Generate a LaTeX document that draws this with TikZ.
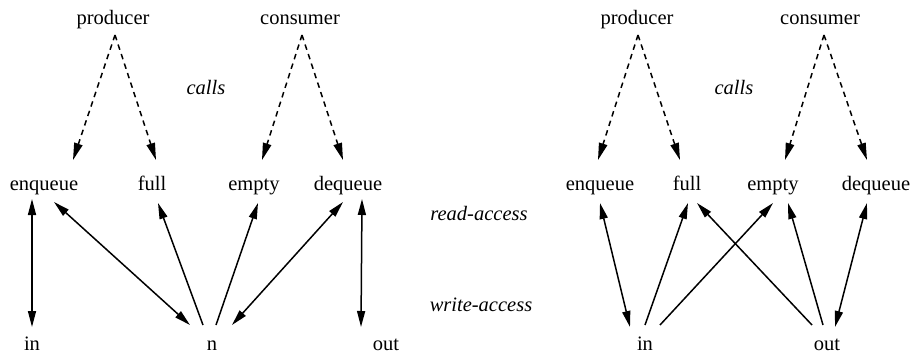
\documentclass[tikz,border=0pt]{standalone}
\usepackage{fontspec}
\setmainfont{Liberation Serif}
\usetikzlibrary{arrows.meta}
\begin{document}
\begin{tikzpicture}[x=1pt,y=-1pt,
  lbl/.style={anchor=base,inner sep=0pt,font=\fontsize{20.5}{24}\selectfont},
  ilbl/.style={anchor=base,inner sep=0pt,font=\fontsize{20.5}{24}\selectfont\itshape},
  callarrow/.style={line width=1.5pt,dash pattern=on 5.5pt off 4.5pt,-{Triangle[length=17pt,width=8.5pt]}},
  sgl/.style={line width=1.5pt,-{Triangle[length=16pt,width=8pt]}},
  dbl/.style={line width=1.5pt,{Triangle[length=16pt,width=8pt]}-{Triangle[length=16pt,width=8pt]}}]
\useasboundingbox (0,0) rectangle (911,353);
% ---- left diagram ----
\node[lbl] (prodL) at (113,25) {producer};
\node[lbl] (consL) at (300,25) {consumer};
\node[ilbl] (callsL) at (206,95) {calls};
\node[lbl] (enqL) at (44,190) {enqueue};
\node[lbl] (fullL) at (152,190) {full};
\node[lbl] (emptyL) at (254,190) {empty};
\node[lbl] (deqL) at (348,190) {dequeue};
\node[lbl] (inL) at (32,350) {in};
\node[lbl] (nL) at (212,350) {n};
\node[lbl] (outL) at (386,350) {out};
% ---- middle labels ----
\node[ilbl] (read) at (479,220) {read-access};
\node[ilbl] (write) at (481,311) {write-access};
% ---- right diagram ----
\node[lbl] (prodR) at (637,25) {producer};
\node[lbl] (consR) at (820,25) {consumer};
\node[ilbl] (callsR) at (734,95) {calls};
\node[lbl] (enqR) at (600,190) {enqueue};
\node[lbl] (fullR) at (687,190) {full};
\node[lbl] (emptyR) at (773,190) {empty};
\node[lbl] (deqR) at (876,190) {dequeue};
\node[lbl] (inR) at (645,350) {in};
\node[lbl] (outR) at (827,350) {out};
% ---- left calls ----
\draw[callarrow] ([shift={(2,10)}]prodL.base) -- ([shift={(29,-30)}]enqL.base);
\draw[callarrow] ([shift={(2,10)}]prodL.base) -- ([shift={(4,-30)}]fullL.base);
\draw[callarrow] ([shift={(2,10)}]consL.base) -- ([shift={(8,-30)}]emptyL.base);
\draw[callarrow] ([shift={(2,10)}]consL.base) -- ([shift={(-5,-30)}]deqL.base);
% ---- left access ----
\draw[dbl] ([shift={(-12,9)}]enqL.base) -- ([shift={(0,-23)}]inL.base);
\draw[dbl] ([shift={(10,12)}]enqL.base) -- ([shift={(-22,-25)}]nL.base);
\draw[sgl] ([shift={(-9,-25)}]nL.base) -- ([shift={(6,13)}]fullL.base);
\draw[sgl] ([shift={(4,-25)}]nL.base) -- ([shift={(4,13)}]emptyL.base);
\draw[dbl] ([shift={(-5,12)}]deqL.base) -- ([shift={(20,-25)}]nL.base);
\draw[dbl] ([shift={(14,9)}]deqL.base) -- ([shift={(-25,-23)}]outL.base);
% ---- right calls ----
\draw[callarrow] ([shift={(1,10)}]prodR.base) -- ([shift={(-2,-30)}]enqR.base);
\draw[callarrow] ([shift={(1,10)}]prodR.base) -- ([shift={(-7,-30)}]fullR.base);
\draw[callarrow] ([shift={(4,10)}]consR.base) -- ([shift={(12,-30)}]emptyR.base);
\draw[callarrow] ([shift={(4,10)}]consR.base) -- ([shift={(-9,-30)}]deqR.base);
% ---- right access ----
\draw[dbl] ([shift={(0,13)}]enqR.base) -- ([shift={(-15,-23)}]inR.base);
\draw[sgl] ([shift={(0,-25)}]inR.base) -- ([shift={(1,13)}]fullR.base);
\draw[sgl] ([shift={(15,-25)}]inR.base) -- ([shift={(0,13)}]emptyR.base);
\draw[sgl] ([shift={(-15,-25)}]outR.base) -- ([shift={(10,13)}]fullR.base);
\draw[sgl] ([shift={(-4,-25)}]outR.base) -- ([shift={(15,13)}]emptyR.base);
\draw[dbl] ([shift={(-9,13)}]deqR.base) -- ([shift={(8,-23)}]outR.base);
\end{tikzpicture}
\end{document}
